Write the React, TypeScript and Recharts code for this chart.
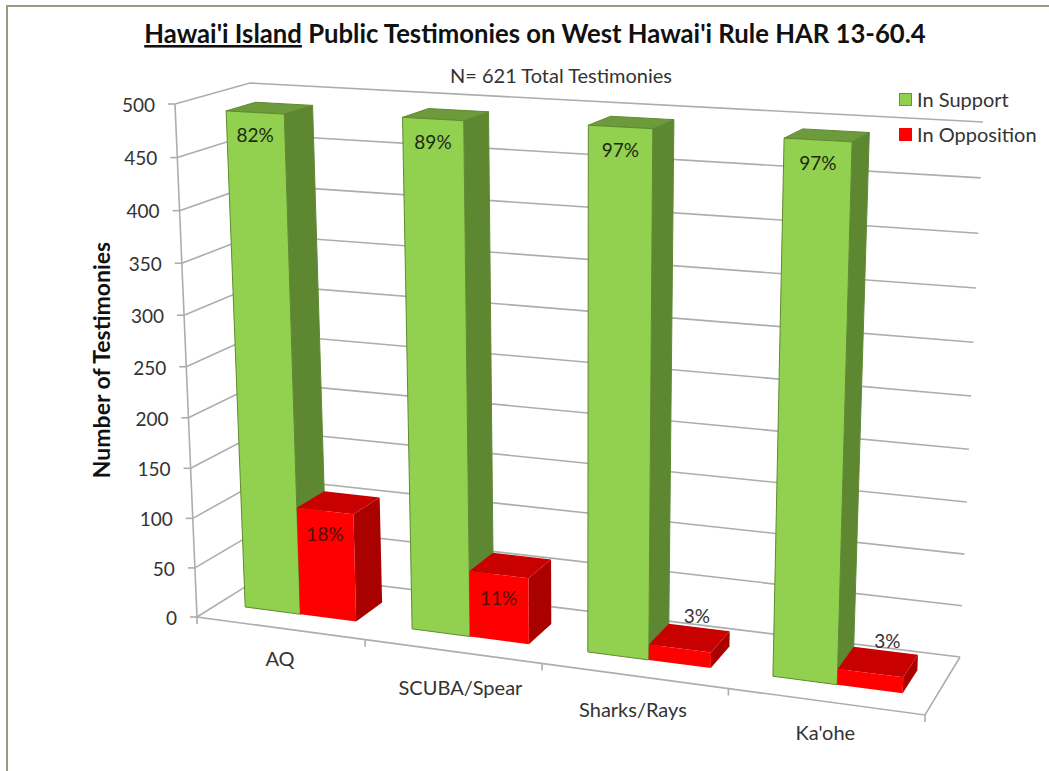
import React from "react";
import { BarChart, Bar, XAxis, YAxis, CartesianGrid, Legend, LabelList } from "recharts";

const categories = ["AQ", "SCUBA/Spear", "Sharks/Rays", "Ka'ohe"];
const inSupport = [489, 492, 494, 492];
const inOpposition = [108, 65, 15, 15];
const supportLabels = ["82%", "89%", "97%", "97%"];
const oppositionLabels = ["18%", "11%", "3%", "3%"];
const yTicks = [0, 50, 100, 150, 200, 250, 300, 350, 400, 450, 500];
const xLabelNudge = [[0, 0], [8, 6], [-1, 3], [0, 0]];

const data = categories.map((name, i) => ({
  name,
  support: inSupport[i],
  opposition: inOpposition[i],
  supportLabel: supportLabels[i],
  oppositionLabel: oppositionLabels[i],
}));

const W = 1049;
const H = 771;
const PL = 197;
const PR = 925;
const PT = 105;
const PB = 617;
const FONT = "Lato, 'Open Sans', sans-serif";
const GRID = "#adadad";
const TEXT = "#333333";

// Corners of the 3D box in which the flat plot is projected
const corners = {
  flb: [197, 617], flt: [175, 104], blb: [269, 572], blt: [250, 83],
  frb: [925, 715], frt: [945, 145], brb: [960, 657], brt: [983, 122],
};
const warp = (t: number, r: number) => t / (t + (1 - t) * r);
const lerp = (a: number, b: number, t: number) => a + (b - a) * t;

function project(px: number, py: number, w: number): [number, number] {
  const u = warp((px - PL) / (PR - PL), 1.11);
  const v = warp((PB - py) / (PB - PT), 1.05);
  const res: number[] = [0, 1].map((k) => {
    const fb = lerp(corners.flb[k], corners.frb[k], u);
    const ft = lerp(corners.flt[k], corners.frt[k], u);
    const bb = lerp(corners.blb[k], corners.brb[k], u);
    const bt = lerp(corners.blt[k], corners.brt[k], u);
    return lerp(lerp(fb, ft, v), lerp(bb, bt, v), w);
  });
  return [res[0], res[1]];
}
const poly = (pts: [number, number][]) => pts.map((p) => p.join(",")).join(" ");

const W0 = 0.3;
const W1 = 0.7;

function Bar3D(props: any) {
  const { x, y, width, height, front, side, top, stroke } = props;
  const xl = x;
  const xr = x + width;
  const yt = y;
  const yb = y + height;
  const fbl = project(xl, yb, W0);
  const fbr = project(xr, yb, W0);
  const ftl = project(xl, yt, W0);
  const ftr = project(xr, yt, W0);
  const bbr = project(xr, yb, W1);
  const btr = project(xr, yt, W1);
  const btl = project(xl, yt, W1);
  const sw = stroke === "none" ? 0 : 1;
  return (
    <g>
      <polygon points={poly([fbr, bbr, btr, ftr])} fill={side} stroke={stroke} strokeWidth={sw} strokeLinejoin="round" />
      <polygon points={poly([ftl, ftr, btr, btl])} fill={top} stroke={stroke} strokeWidth={sw} strokeLinejoin="round" />
      <polygon points={poly([fbl, fbr, ftr, ftl])} fill={front} stroke={stroke} strokeWidth={sw} strokeLinejoin="round" />
    </g>
  );
}

function GridLine(props: any) {
  const { y1 } = props;
  const a = project(PL, y1, 0);
  const b = project(PL, y1, 1);
  const c = project(PR, y1, 1);
  const isFloor = Math.abs(y1 - PB) < 0.5;
  return (
    <g fill="none" stroke={GRID} strokeWidth={1.6}>
      <polyline points={poly([a, b, c])} />
      {isFloor && <polyline points={poly([project(PL, PT, 0), a, project(PR, PB, 0), c])} />}
    </g>
  );
}

function YTick(props: any) {
  const { y, payload } = props;
  const [ax, ay] = project(PL, y, 0);
  return (
    <g>
      <line x1={ax - 7} y1={ay} x2={ax} y2={ay} stroke={GRID} strokeWidth={1.6} />
      <text x={ax - 20} y={ay + 3} textAnchor="end" dominantBaseline="middle" fontFamily={FONT} fontSize={19} fill={TEXT}>
        {payload.value}
      </text>
    </g>
  );
}

function XTick(props: any) {
  const { x, index, payload } = props;
  const half = (PR - PL) / categories.length / 2;
  const edge = project(x + half, PB, 0);
  const left = project(x - half, PB, 0);
  const center = project(x, PB, 0);
  const [nx, ny] = xLabelNudge[index];
  return (
    <g>
      <line x1={edge[0]} y1={edge[1]} x2={edge[0]} y2={edge[1] + 7} stroke={GRID} strokeWidth={1.6} />
      {index === 0 && <line x1={left[0]} y1={left[1]} x2={left[0]} y2={left[1] + 7} stroke={GRID} strokeWidth={1.6} />}
      <text x={center[0] + nx} y={center[1] + 33 + ny} textAnchor="middle" dominantBaseline="middle" fontFamily={FONT} fontSize={20} fill={TEXT}>
        {payload.value}
      </text>
    </g>
  );
}

const makeLabel = (dark: string) => (props: any) => {
  const { x, y, width, height, value } = props;
  const ftc = project(x + width / 2, y, W0);
  const small = height < 30;
  return (
    <text
      x={ftc[0] + (small ? 17 : 0)}
      y={small ? ftc[1] - 30 : ftc[1] + 25}
      textAnchor="middle"
      dominantBaseline="middle"
      fontFamily={FONT}
      fontSize={19}
      fill={small ? TEXT : dark}
    >
      {value}
    </text>
  );
};

function LegendBox() {
  const row = (label: string, color: string, stroke: string, top: number) => (
    <div style={{ position: "absolute", left: 0, top, height: 22, display: "flex", alignItems: "center", whiteSpace: "nowrap" }}>
      <span style={{ display: "inline-block", width: 11, height: 11, background: color, border: `1px solid ${stroke}`, marginRight: 5 }} />
      <span style={{ fontFamily: FONT, fontSize: 20, color: TEXT }}>{label}</span>
    </div>
  );
  return (
    <div style={{ position: "relative", width: 150, height: 70 }}>
      {row("In Support", "#92d050", "#6f8f45", 0)}
      {row("In Opposition", "#ff0000", "#ff0000", 35)}
    </div>
  );
}

export default function App() {
  return (
    <div style={{ position: "absolute", left: 0, top: 0, width: W, height: H, background: "#ffffff", overflow: "hidden" }}>
      <div style={{ position: "absolute", left: 6, top: 5, width: W, height: 800, border: "2px solid #93a07a", boxSizing: "border-box" }} />
      <BarChart
        width={W}
        height={H}
        data={data}
        margin={{ top: PT, right: W - PR, bottom: H - PB - 30, left: PL - 60 }}
        barCategoryGap="16.4%"
        barGap={0}
        style={{ position: "absolute", left: 0, top: 0 }}
      >
        <text x={535} y={36} textAnchor="middle" dominantBaseline="middle" fontFamily={FONT} fontSize={25.7} fontWeight={700} fill="#111111">
          <tspan textDecoration="underline">Hawai'i Island</tspan>
          <tspan> Public Testimonies on West Hawai'i Rule HAR 13-60.4</tspan>
        </text>
        <text x={561} y={78} textAnchor="middle" dominantBaseline="middle" fontFamily={FONT} fontSize={20} fill={TEXT}>
          N= 621 Total Testimonies
        </text>
        <text
          x={104}
          y={360}
          transform="rotate(-90 104 360)"
          textAnchor="middle"
          dominantBaseline="middle"
          fontFamily={FONT}
          fontSize={23}
          fontWeight={700}
          fill="#111111"
        >
          Number of Testimonies
        </text>
        <CartesianGrid vertical={false} horizontal={GridLine as any} />
        <XAxis dataKey="name" axisLine={false} tickLine={false} height={30} tick={XTick as any} interval={0} />
        <YAxis domain={[0, 500]} ticks={yTicks} width={60} axisLine={false} tickLine={false} tick={YTick as any} interval={0} />
        <Legend
          layout="vertical"
          align="center"
          verticalAlign="middle"
          content={LegendBox as any}
          wrapperStyle={{ position: "absolute", left: 899, top: 88, width: 150, height: 70, bottom: "auto", right: "auto" }}
        />
        <Bar
          dataKey="support"
          name="In Support"
          isAnimationActive={false}
          shape={(p: any) => <Bar3D {...p} front="#92d050" side="#5e8732" top="#6d9a3a" stroke="#5f8a33" />}
        >
          <LabelList dataKey="supportLabel" content={makeLabel("#1c2a10") as any} />
        </Bar>
        <Bar
          dataKey="opposition"
          name="In Opposition"
          isAnimationActive={false}
          shape={(p: any) => <Bar3D {...p} front="#ff0000" side="#a90000" top="#c80000" stroke="none" />}
        >
          <LabelList dataKey="oppositionLabel" content={makeLabel("#5a0a0a") as any} />
        </Bar>
      </BarChart>
    </div>
  );
}
